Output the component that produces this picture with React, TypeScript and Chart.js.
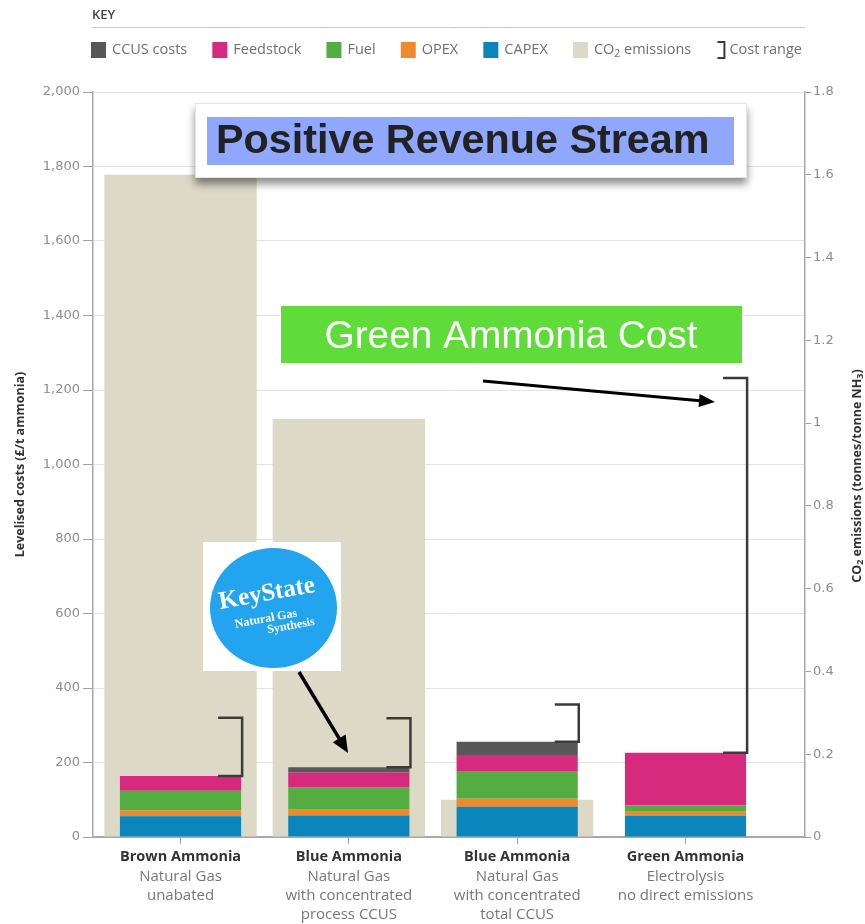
import { useEffect, useRef } from "react";
import { Chart, registerables } from "chart.js";

Chart.register(...registerables);

// ---------- data ----------
const categories = ["Brown Ammonia", "Blue Ammonia", "Blue Ammonia", "Green Ammonia"];
const categoryNotes = [
  ["Natural Gas", "unabated"],
  ["Natural Gas", "with concentrated", "process CCUS"],
  ["Natural Gas", "with concentrated", "total CCUS"],
  ["Electrolysis", "no direct emissions"],
];
const capexCost = [56, 58, 81, 58];
const opexCost = [15, 16, 22, 12];
const fuelCost = [53, 59, 74, 15];
const feedstockCost = [40, 40, 43, 141];
const ccusCost = [0, 14, 36, 0];
const co2Emissions = [1.6, 1.01, 0.09, 0];
const costRangeLow = [164, 187, 256, 226];
const costRangeHigh = [320, 319, 356, 1232];

const costAxisMax = 2000;
const costAxisStep = 200;
const co2AxisMax = 1.8;
const co2AxisStep = 0.2;

const leftTitle = "Levelised costs (£/t ammonia)";
const annotationRevenue = "Positive Revenue Stream";
const annotationGreen = "Green Ammonia Cost";

// ---------- styles ----------
const FONT = "'Open Sans', 'DejaVu Sans', sans-serif";
const NUMFONT = "'DejaVu Sans', sans-serif";
const COLORS = {
  capex: "#0a86bd",
  opex: "#ef8a2b",
  fuel: "#53ad41",
  feedstock: "#d62a7f",
  ccus: "#58585a",
  co2: "#dcd9c7",
  bracket: "#3a3a3a",
};

type Part = { t: string; sub?: boolean };

function setFont(ctx: CanvasRenderingContext2D, size: number, weight = "normal", family = FONT) {
  ctx.font = `${weight} ${size}px ${family}`;
}

function richWidth(ctx: CanvasRenderingContext2D, parts: Part[], size: number, weight: string) {
  let w = 0;
  for (const p of parts) {
    setFont(ctx, p.sub ? size * 0.72 : size, weight);
    w += ctx.measureText(p.t).width;
  }
  return w;
}

function drawRich(
  ctx: CanvasRenderingContext2D,
  parts: Part[],
  x: number,
  y: number,
  size: number,
  weight: string,
  align: "left" | "center"
) {
  const w = richWidth(ctx, parts, size, weight);
  let cx = align === "center" ? x - w / 2 : x;
  ctx.textAlign = "left";
  ctx.textBaseline = "middle";
  for (const p of parts) {
    setFont(ctx, p.sub ? size * 0.72 : size, weight);
    ctx.fillText(p.t, cx, p.sub ? y + size * 0.3 : y);
    cx += ctx.measureText(p.t).width;
  }
}

function arrow(
  ctx: CanvasRenderingContext2D,
  x1: number,
  y1: number,
  x2: number,
  y2: number,
  lw: number,
  headLen: number,
  headW: number
) {
  const a = Math.atan2(y2 - y1, x2 - x1);
  const c = Math.cos(a);
  const s = Math.sin(a);
  const bx = x2 - headLen * c;
  const by = y2 - headLen * s;
  ctx.save();
  ctx.strokeStyle = "#000";
  ctx.fillStyle = "#000";
  ctx.lineWidth = lw;
  ctx.beginPath();
  ctx.moveTo(x1, y1);
  ctx.lineTo(bx + c, by + s);
  ctx.stroke();
  ctx.beginPath();
  ctx.moveTo(x2, y2);
  ctx.lineTo(bx - (headW / 2) * s, by + (headW / 2) * c);
  ctx.lineTo(bx + (headW / 2) * s, by - (headW / 2) * c);
  ctx.closePath();
  ctx.fill();
  ctx.restore();
}

const decorPlugin = {
  id: "decor",
  afterDatasetsDraw(chart: any) {
    const ctx: CanvasRenderingContext2D = chart.ctx;
    const yScale = chart.scales.y;
    const meta = chart.getDatasetMeta(0);
    ctx.save();
    ctx.strokeStyle = COLORS.bracket;
    ctx.lineWidth = 2.5;
    ctx.lineJoin = "miter";
    categories.forEach((_, i) => {
      const el = meta.data[i];
      const xr = el.x + el.width / 2 + 1;
      const yh = yScale.getPixelForValue(costRangeHigh[i]);
      const yl = yScale.getPixelForValue(costRangeLow[i]);
      ctx.beginPath();
      ctx.moveTo(xr - 24, yh);
      ctx.lineTo(xr, yh);
      ctx.lineTo(xr, yl);
      ctx.lineTo(xr - 24, yl);
      ctx.stroke();
    });
    ctx.restore();
  },
  afterDraw(chart: any) {
    const ctx: CanvasRenderingContext2D = chart.ctx;
    const area = chart.chartArea;
    ctx.save();

    // ---- KEY header ----
    ctx.fillStyle = "#444";
    setFont(ctx, 13, "600");
    ctx.textAlign = "left";
    ctx.textBaseline = "middle";
    ctx.fillText("KEY", 92, 15);
    ctx.strokeStyle = "#c8c8c8";
    ctx.lineWidth = 1;
    ctx.beginPath();
    ctx.moveTo(92, 27.5);
    ctx.lineTo(area.right, 27.5);
    ctx.stroke();

    // ---- legend ----
    const items: { kind: "box" | "bracket"; color: string; parts: Part[] }[] = [
      { kind: "box", color: COLORS.ccus, parts: [{ t: "CCUS costs" }] },
      { kind: "box", color: COLORS.feedstock, parts: [{ t: "Feedstock" }] },
      { kind: "box", color: COLORS.fuel, parts: [{ t: "Fuel" }] },
      { kind: "box", color: COLORS.opex, parts: [{ t: "OPEX" }] },
      { kind: "box", color: COLORS.capex, parts: [{ t: "CAPEX" }] },
      { kind: "box", color: COLORS.co2, parts: [{ t: "CO" }, { t: "2", sub: true }, { t: " emissions" }] },
      { kind: "bracket", color: COLORS.bracket, parts: [{ t: "Cost range" }] },
    ];
    const lsize = 14.5;
    const widths = items.map(
      (it) => (it.kind === "box" ? 21 : 13) + richWidth(ctx, it.parts, lsize, "normal")
    );
    const lx0 = 91;
    const lx1 = 802;
    const total = widths.reduce((a, b) => a + b, 0);
    const gap = (lx1 - lx0 - total) / (items.length - 1);
    let lx = lx0;
    const ly = 50;
    items.forEach((it, k) => {
      if (it.kind === "box") {
        ctx.fillStyle = it.color;
        ctx.fillRect(lx, ly - 8, 15, 16);
        ctx.fillStyle = "#707070";
        drawRich(ctx, it.parts, lx + 21, ly, lsize, "normal", "left");
      } else {
        ctx.strokeStyle = it.color;
        ctx.lineWidth = 2;
        ctx.beginPath();
        ctx.moveTo(lx + 1, ly - 8);
        ctx.lineTo(lx + 8, ly - 8);
        ctx.lineTo(lx + 8, ly + 8);
        ctx.lineTo(lx + 1, ly + 8);
        ctx.stroke();
        ctx.fillStyle = "#707070";
        drawRich(ctx, it.parts, lx + 13, ly, lsize, "normal", "left");
      }
      lx += widths[k] + gap;
    });

    // ---- axis titles ----
    ctx.fillStyle = "#333";
    ctx.save();
    ctx.translate(20, (area.top + area.bottom) / 2);
    ctx.rotate(-Math.PI / 2);
    drawRich(ctx, [{ t: leftTitle }], 0, 0, 12.5, "bold", "center");
    ctx.restore();
    ctx.save();
    ctx.translate(857, 476);
    ctx.rotate(-Math.PI / 2);
    drawRich(
      ctx,
      [{ t: "CO" }, { t: "2", sub: true }, { t: " emissions (tonnes/tonne NH" }, { t: "3", sub: true }, { t: ")" }],
      0,
      0,
      12.5,
      "bold",
      "center"
    );
    ctx.restore();

    // ---- category labels ----
    const xScale = chart.scales.x;
    categories.forEach((c, i) => {
      const x = xScale.getPixelForValue(i);
      ctx.fillStyle = "#333";
      ctx.textAlign = "center";
      ctx.textBaseline = "middle";
      setFont(ctx, 14.5, "bold");
      ctx.fillText(c, x, 857);
      ctx.fillStyle = "#777";
      setFont(ctx, 15, "normal");
      categoryNotes[i].forEach((n, j) => ctx.fillText(n, x, 877 + j * 19));
    });

    // ---- "Positive Revenue Stream" box ----
    ctx.save();
    ctx.shadowColor = "rgba(0,0,0,0.45)";
    ctx.shadowBlur = 8;
    ctx.shadowOffsetY = 6;
    ctx.fillStyle = "#fff";
    ctx.fillRect(195, 103, 552, 75);
    ctx.restore();
    ctx.strokeStyle = "#e6e6e6";
    ctx.lineWidth = 1;
    ctx.strokeRect(195.5, 103.5, 551, 74);
    ctx.fillStyle = "#8fa8fd";
    ctx.fillRect(207, 117, 527, 48);
    ctx.fillStyle = "#222";
    setFont(ctx, 41.3, "bold", "'Liberation Sans', Arial, sans-serif");
    ctx.textAlign = "left";
    ctx.textBaseline = "middle";
    ctx.fillText(annotationRevenue, 216, 142);

    // ---- "Green Ammonia Cost" box ----
    ctx.fillStyle = "#5fdb3a";
    ctx.fillRect(281, 306, 461, 57);
    ctx.fillStyle = "#fff";
    setFont(ctx, 38.8, "normal", "'Liberation Sans', Arial, sans-serif");
    ctx.textAlign = "center";
    ctx.fillText(annotationGreen, 511, 337);

    // ---- KeyState logo ----
    ctx.fillStyle = "#fff";
    ctx.fillRect(203, 542, 138, 129);
    ctx.fillStyle = "#22a4ef";
    ctx.beginPath();
    ctx.ellipse(273.5, 608, 63.5, 60, 0, 0, Math.PI * 2);
    ctx.fill();
    ctx.fillStyle = "#fff";
    const serif = "'Liberation Serif', 'DejaVu Serif', serif";
    ctx.save();
    ctx.translate(267, 594);
    ctx.rotate(-0.18);
    setFont(ctx, 25, "bold", serif);
    ctx.textAlign = "center";
    ctx.fillText("KeyState", 0, 0);
    ctx.restore();
    ctx.save();
    ctx.translate(266, 619);
    ctx.rotate(-0.18);
    setFont(ctx, 12, "bold", serif);
    ctx.textAlign = "center";
    ctx.fillText("Natural Gas", 0, 0);
    ctx.restore();
    ctx.save();
    ctx.translate(291, 626);
    ctx.rotate(-0.18);
    setFont(ctx, 12, "bold", serif);
    ctx.textAlign = "center";
    ctx.fillText("Synthesis", 0, 0);
    ctx.restore();

    // ---- arrows ----
    arrow(ctx, 483, 381, 715, 402, 3, 16, 13);
    arrow(ctx, 299, 672, 348, 753, 3.5, 17, 15);

    ctx.restore();
  },
};

export default function App() {
  const ref = useRef<HTMLCanvasElement>(null);

  useEffect(() => {
    if (!ref.current) return;
    const costSeries = [
      { label: "CAPEX", data: capexCost, color: COLORS.capex },
      { label: "OPEX", data: opexCost, color: COLORS.opex },
      { label: "Fuel", data: fuelCost, color: COLORS.fuel },
      { label: "Feedstock", data: feedstockCost, color: COLORS.feedstock },
      { label: "CCUS costs", data: ccusCost, color: COLORS.ccus },
    ];
    const datasets: any[] = costSeries.map((s) => ({
      label: s.label,
      data: s.data.map((v, i) => ({ x: i, y: v })),
      backgroundColor: s.color,
      borderWidth: 0,
      xAxisID: "x",
      yAxisID: "y",
      grouped: false,
      categoryPercentage: 1,
      barPercentage: 0.72,
      order: 1,
    }));
    datasets.push({
      label: "CO₂ emissions",
      data: co2Emissions.map((v, i) => ({ x: i, y: v })),
      backgroundColor: COLORS.co2,
      borderWidth: 0,
      xAxisID: "x",
      yAxisID: "y1",
      grouped: false,
      categoryPercentage: 1,
      barPercentage: 0.905,
      order: 2,
    });

    const tickColor = "#8e8e8e";
    const chart = new Chart(ref.current, {
      type: "bar",
      data: { datasets },
      options: {
        animation: false,
        responsive: false,
        layout: { padding: { top: 92, left: 0, right: 0, bottom: 0 } },
        plugins: { legend: { display: false }, tooltip: { enabled: false } },
        scales: {
          x: {
            type: "linear",
            min: -0.52,
            max: 3.71,
            offset: false,
            afterBuildTicks: (s: any) => {
              s.ticks = categories.map((_, i) => ({ value: i }));
            },
            ticks: { callback: () => "", autoSkip: false, maxRotation: 0 },
            grid: {
              offset: false,
              drawOnChartArea: false,
              tickLength: 7,
              tickColor: "#a0a0a0",
              color: "#a0a0a0",
            },
            border: { color: "#a8a8a8", width: 2 },
            afterFit: (s: any) => {
              s.height = 87;
            },
          },
          y: {
            position: "left",
            stacked: true,
            min: 0,
            max: costAxisMax,
            ticks: {
              stepSize: costAxisStep,
              color: tickColor,
              font: { family: NUMFONT, size: 13 },
              padding: 3,
              callback: (v: any) => String(v).replace(/\B(?=(\d{3})+(?!\d))/g, ","),
            },
            grid: { color: "#e3e3e3", tickLength: 10, tickColor: "#a0a0a0" },
            border: { color: "#a8a8a8", width: 1.5 },
            afterFit: (s: any) => {
              s.width = 93;
            },
          },
          y1: {
            position: "right",
            stacked: false,
            min: 0,
            max: co2AxisMax,
            ticks: {
              stepSize: co2AxisStep,
              color: tickColor,
              font: { family: NUMFONT, size: 13 },
              padding: 2,
              callback: (v: any) => String(Math.round(Number(v) * 10) / 10),
            },
            grid: { drawOnChartArea: false, tickLength: 6, tickColor: "#a0a0a0" },
            border: { color: "#a8a8a8", width: 1.5 },
            afterFit: (s: any) => {
              s.width = 60;
            },
          },
        },
      } as any,
      plugins: [decorPlugin],
    });
    return () => chart.destroy();
  }, []);

  return (
    <div style={{ position: "fixed", left: 0, top: 0, width: 865, height: 924, background: "#fff" }}>
      <canvas ref={ref} width={865} height={924} style={{ display: "block" }} />
    </div>
  );
}
